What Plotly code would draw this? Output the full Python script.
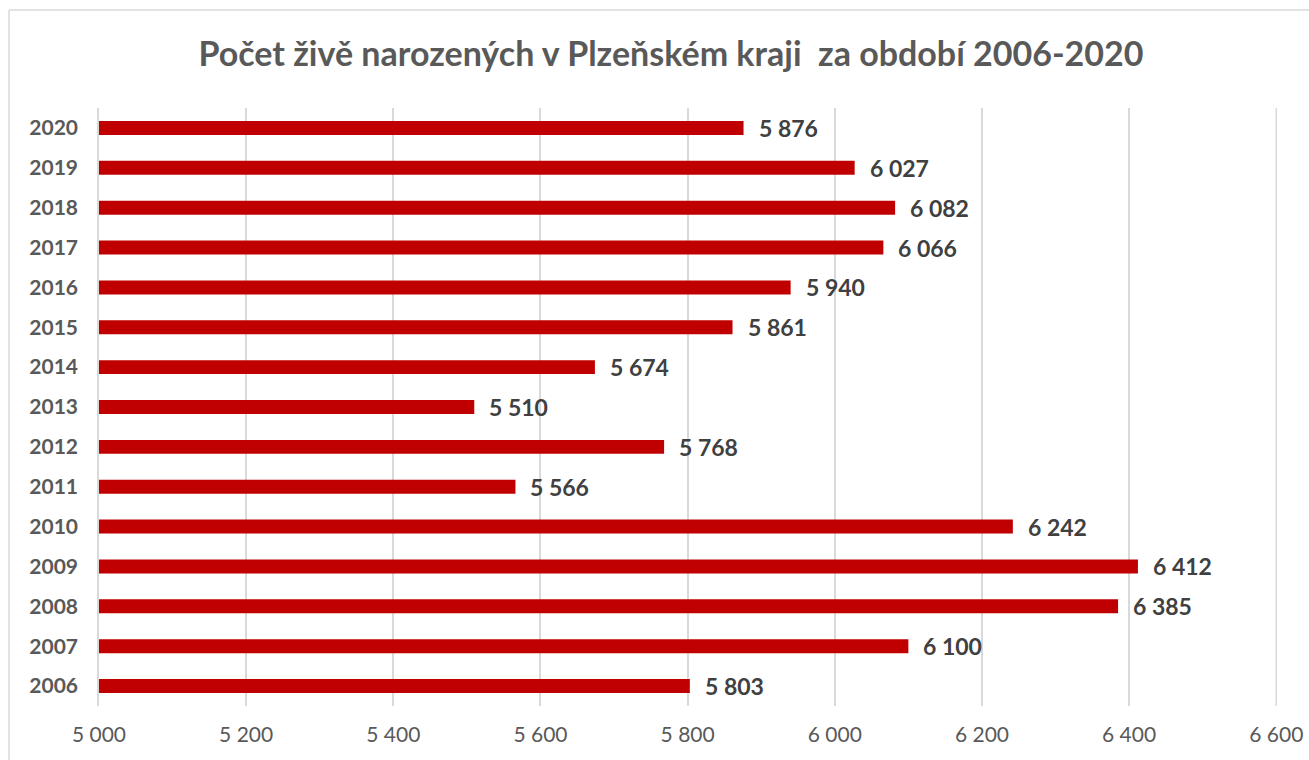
import plotly.graph_objects as go

years = ["2006", "2007", "2008", "2009", "2010", "2011", "2012", "2013",
         "2014", "2015", "2016", "2017", "2018", "2019", "2020"]
values = [5803, 6100, 6385, 6412, 6242, 5566, 5768, 5510, 5674, 5861, 5940, 6066, 6082, 6027, 5876]
x_ticks = [5000, 5200, 5400, 5600, 5800, 6000, 6200, 6400, 6600]
x_tick_labels = ["5 000", "5 200", "5 400", "5 600", "5 800", "6 000", "6 200", "6 400", "6 600"]
title_text = "Počet živě narozených v Plzeňském kraji  za období 2006-2020"

def fmt(v):
    return f"{v:,}".replace(",", " ")

W, H = 1309, 760
L, R, T, B = 99, 32, 108, 54
PW, PH = W - L - R, H - T - B

pos = list(range(len(years)))
FONT = "Lato, Open Sans, sans-serif"
GRID = "#D9D9D9"

fig = go.Figure()
fig.add_trace(go.Bar(
    x=values, y=pos, orientation="h", width=0.35,
    marker=dict(color="#C00000", line=dict(width=0)),
    customdata=years,
    hovertemplate="%{customdata}: %{x}<extra></extra>",
))

annotations = []
for p, v in zip(pos, values):
    annotations.append(dict(
        x=v, y=p, xref="x", yref="y", text="<b>" + fmt(v) + "</b>", showarrow=False,
        xanchor="left", yanchor="middle", xshift=13,
        font=dict(family=FONT, size=23, color="#404040"),
    ))

fig.update_layout(
    width=W, height=H,
    margin=dict(l=L, r=R, t=T, b=B, autoexpand=False),
    paper_bgcolor="white", plot_bgcolor="white",
    showlegend=False,
    title=dict(
        text="<b>" + title_text + "</b>",
        x=671 / W, xref="container", xanchor="center",
        y=1 - 54 / H, yref="container", yanchor="middle",
        font=dict(family=FONT, size=34, color="#595959"),
    ),
    xaxis=dict(
        range=[x_ticks[0], x_ticks[-1] + 1], tickvals=x_ticks, ticktext=x_tick_labels,
        showgrid=True, gridcolor=GRID, gridwidth=1.5,
        zeroline=False, showline=False, automargin=False,
        ticks="outside", ticklen=10, tickcolor="rgba(0,0,0,0)",
        tickfont=dict(family=FONT, size=21, color="#595959"),
        fixedrange=True,
    ),
    yaxis=dict(
        range=[-0.5, len(years) - 0.5],
        tickvals=pos, ticktext=["<b>" + y + "</b>" for y in years],
        showgrid=False, zeroline=False, automargin=False,
        showline=True, linecolor=GRID, linewidth=1.5,
        ticks="outside", ticklen=15, tickcolor="rgba(0,0,0,0)",
        tickfont=dict(family=FONT, size=21, color="#595959"),
        fixedrange=True,
    ),
    annotations=annotations,
    shapes=[
        dict(type="line", xref="x", yref="paper",
             x0=x_ticks[-1], x1=x_ticks[-1], y0=0, y1=1,
             line=dict(color=GRID, width=1.5), layer="below"),
        dict(type="line", xref="paper", yref="paper",
             x0=(9 - L) / PW, x1=(W - L) / PW,
             y0=1 + (T - 10) / PH, y1=1 + (T - 10) / PH,
             line=dict(color=GRID, width=1.5)),
        dict(type="line", xref="paper", yref="paper",
             x0=(9 - L) / PW, x1=(9 - L) / PW,
             y0=1 + (T - 10) / PH, y1=-B / PH,
             line=dict(color=GRID, width=1.5)),
    ],
)

fig.write_html(
    "out.html",
    config={"displayModeBar": False},
    post_script="document.body.style.margin='0';document.body.style.overflow='hidden';",
)
